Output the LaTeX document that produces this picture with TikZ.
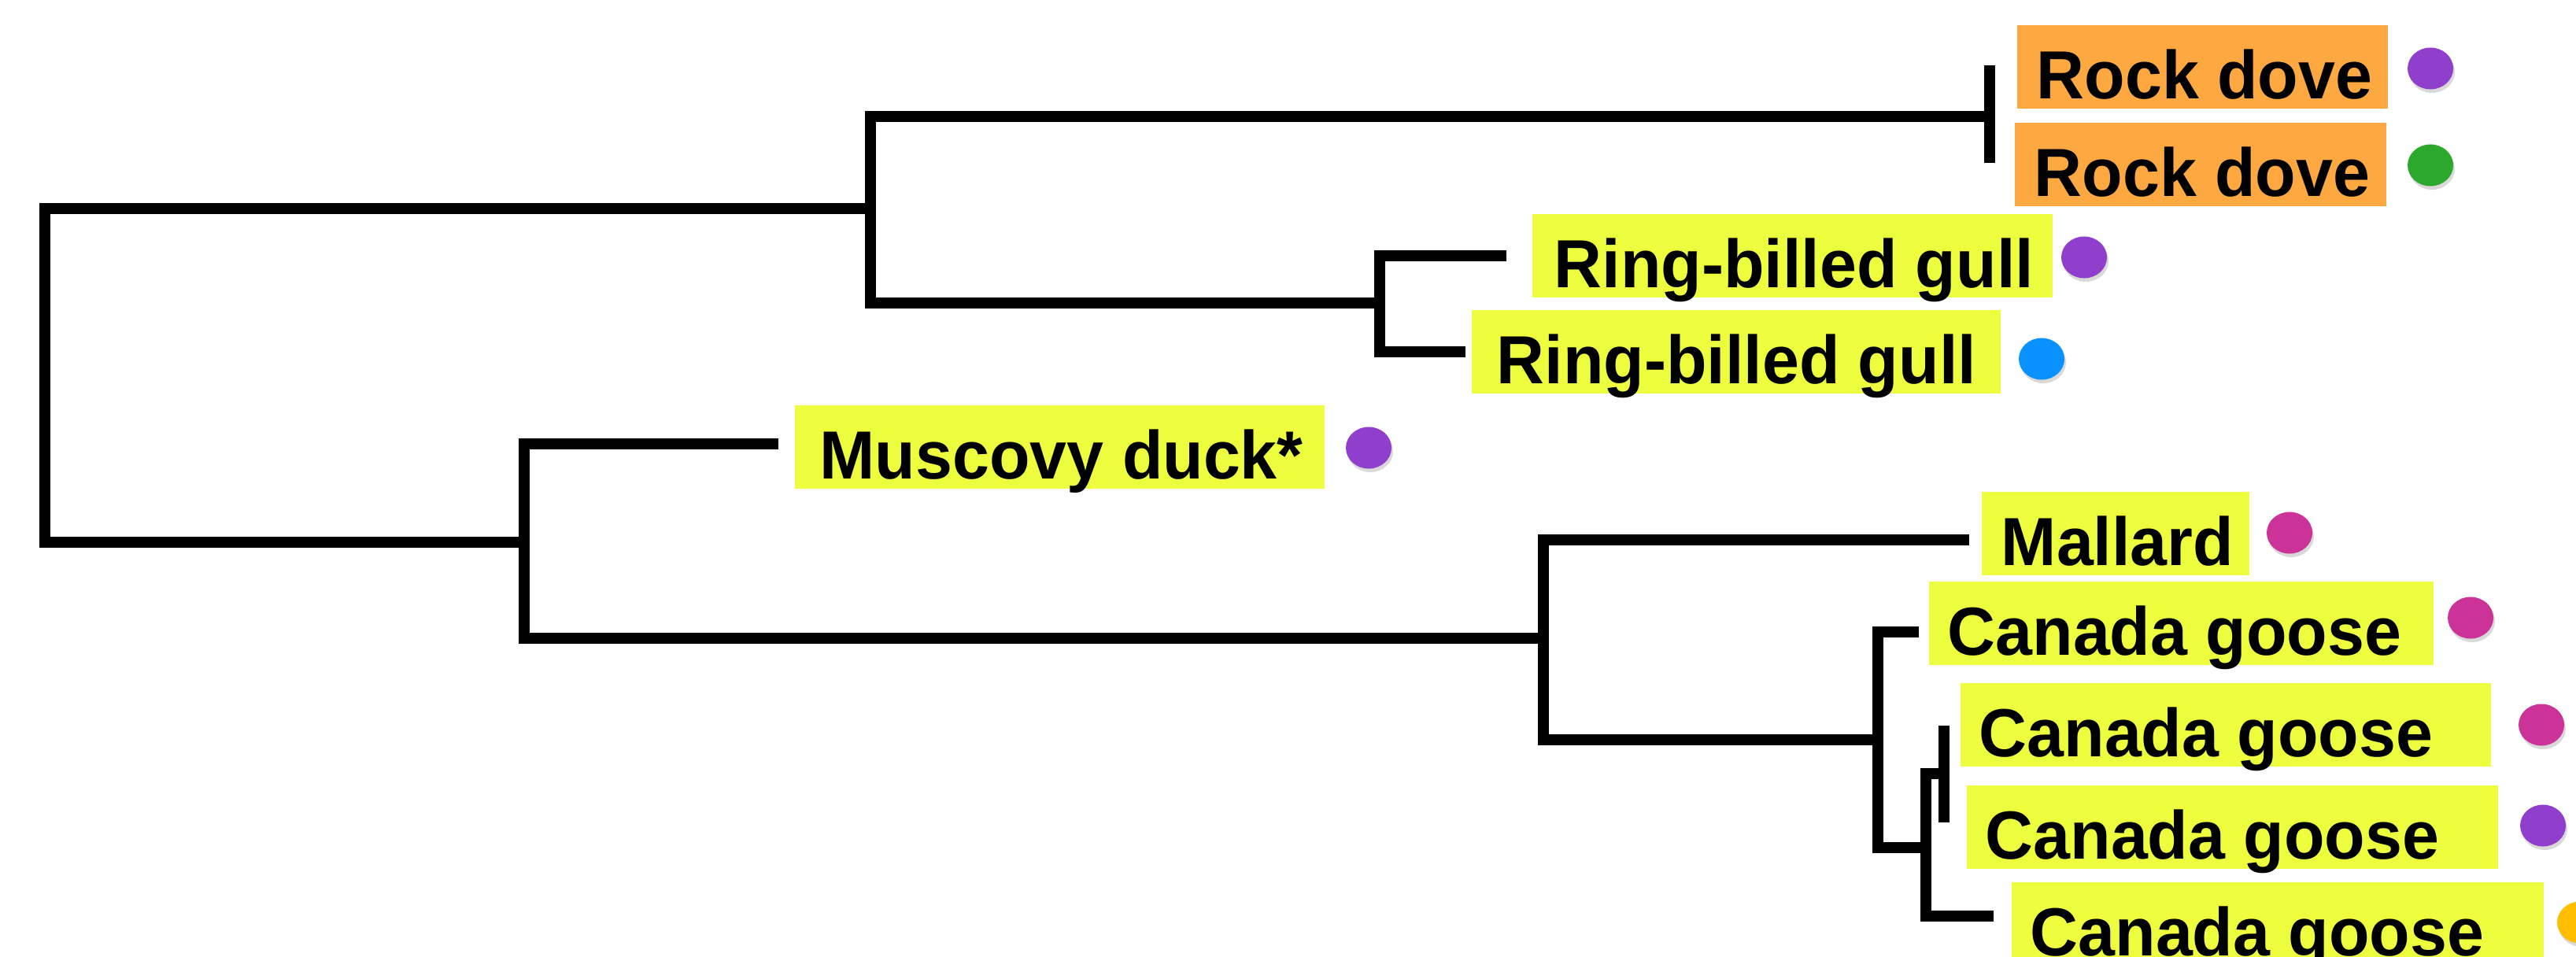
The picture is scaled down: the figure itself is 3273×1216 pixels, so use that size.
\documentclass[tikz,border=0pt]{standalone}
\usepackage{fontspec}
\newfontfamily\lblfamily{Liberation Sans}[FakeStretch=0.975]
\usetikzlibrary{shapes.geometric,shadows}
\definecolor{dovebox}{HTML}{FDA840}
\definecolor{yelbox}{HTML}{EDFE3E}
\definecolor{cpurple}{HTML}{8F3FCB}
\definecolor{cgreen}{HTML}{2CA82C}
\definecolor{cblue}{HTML}{0891FF}
\definecolor{cmagenta}{HTML}{CC3398}
\definecolor{cgold}{HTML}{FFBF00}
\newcommand{\lbltext}[3]{\makebox[#1][l]{\hspace*{#2}#3}}
\tikzset{
  br/.style={line width=0.145cm, line join=miter, line cap=butt},
  lbl/.style={anchor=south west, inner sep=0pt, text height=0.93cm, text depth=0.13cm,
    font=\lblfamily\bfseries\fontsize{24.6pt}{30pt}\selectfont},
  dot/.style={ellipse, inner sep=0pt, minimum width=0.58cm, minimum height=0.53cm,
    drop shadow={shadow xshift=0.02cm, shadow yshift=-0.045cm, opacity=0.25, fill=black!60}}
}
\begin{document}
\begin{tikzpicture}[x=0.01cm, y=-0.01cm]
\path[use as bounding box] (0,0) rectangle (3273,1216);
\clip (0,0) rectangle (3273,1216);
% tree coordinates
\coordinate (r1) at (57,265);
\coordinate (r2) at (57,689);
\coordinate (a1) at (1106,148);
\coordinate (a2) at (1106,265);
\coordinate (a3) at (1106,385);
\coordinate (rd) at (2528,148);
\coordinate (rd1) at (2528,83);
\coordinate (rd2) at (2528,207);
\coordinate (g0) at (1753,385);
\coordinate (g1) at (1753,325);
\coordinate (g2) at (1753,447);
\coordinate (g1e) at (1914,325);
\coordinate (g2e) at (1862,447);
\coordinate (d0) at (666,689);
\coordinate (d1) at (666,564);
\coordinate (d2) at (666,811);
\coordinate (mu) at (989,564);
\coordinate (n0) at (1961,811);
\coordinate (n1) at (1961,686);
\coordinate (n2) at (1961,940);
\coordinate (ma) at (2502,686);
\coordinate (c0) at (2386,940);
\coordinate (c1) at (2386,803);
\coordinate (c2) at (2386,1077);
\coordinate (cg1) at (2438,803);
\coordinate (s0) at (2447,1077);
\coordinate (s1) at (2447,983);
\coordinate (s2) at (2447,1164);
\coordinate (cg4) at (2533,1164);
\coordinate (b0) at (2470,983);
\coordinate (b1) at (2470,922);
\coordinate (b2) at (2470,1045);
% branches
\draw[br] (a2) -- (r1) -- (r2) -- (d0);
\draw[br] (rd) -- (a1) -- (a3) -- (g0);
\draw[br] (rd1) -- (rd2);
\draw[br] (g1e) -- (g1) -- (g2) -- (g2e);
\draw[br] (mu) -- (d1) -- (d2) -- (n0);
\draw[br] (ma) -- (n1) -- (n2) -- (c0);
\draw[br] (cg1) -- (c1) -- (c2) -- (s0);
\draw[br] (b0) -- (s1) -- (s2) -- (cg4);
\draw[br] (b1) -- (b2);
% labels
\node[lbl, fill=dovebox] (t1) at (2562,139) {\lbltext{4.71cm}{0.25cm}{Rock dove}};
\node[lbl, fill=dovebox] (t2) at (2559,263) {\lbltext{4.72cm}{0.25cm}{Rock dove}};
\node[lbl, fill=yelbox] (t3) at (1946,379) {\lbltext{6.61cm}{0.28cm}{Ring-billed gull}};
\node[lbl, fill=yelbox] (t4) at (1869,501) {\lbltext{6.72cm}{0.32cm}{Ring-billed gull}};
\node[lbl, fill=yelbox] (t5) at (1009,622) {\lbltext{6.73cm}{0.32cm}{Muscovy duck*}};
\node[lbl, fill=yelbox] (t6) at (2517,732) {\lbltext{3.40cm}{0.25cm}{Mallard}};
\node[lbl, fill=yelbox] (t7) at (2450,846) {\lbltext{6.41cm}{0.24cm}{Canada goose}};
\node[lbl, fill=yelbox] (t8) at (2490,975) {\lbltext{6.74cm}{0.24cm}{Canada goose}};
\node[lbl, fill=yelbox] (t9) at (2498,1105) {\lbltext{6.75cm}{0.24cm}{Canada goose}};
\node[lbl, fill=yelbox] (t10) at (2555,1228) {\lbltext{6.76cm}{0.24cm}{Canada goose}};
% dots
\node[dot, fill=cpurple] (p1) at (3088,87) {};
\node[dot, fill=cgreen] (p2) at (3088,210) {};
\node[dot, fill=cpurple] (p3) at (2648,327) {};
\node[dot, fill=cblue] (p4) at (2594,456) {};
\node[dot, fill=cpurple] (p5) at (1739,569) {};
\node[dot, fill=cmagenta] (p6) at (2909,677) {};
\node[dot, fill=cmagenta] (p7) at (3139,785) {};
\node[dot, fill=cmagenta] (p8) at (3229,921) {};
\node[dot, fill=cpurple] (p9) at (3231,1049) {};
\node[dot, fill=cgold] (p10) at (3278,1172) {};
\end{tikzpicture}
\end{document}
